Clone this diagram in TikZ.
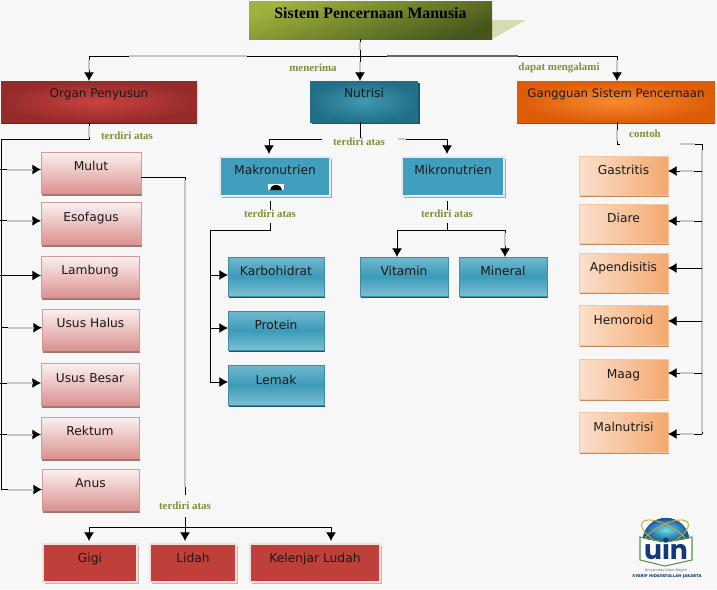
\documentclass[tikz,border=0pt]{standalone}
\usepackage{fontspec}
\setmainfont{DejaVu Sans}
\newfontfamily\serifb{Liberation Serif}[BoldFont={Liberation Serif Bold}]
\newfontfamily\logofont{Poppins}
\usetikzlibrary{arrows.meta,shadows,calc}
\definecolor{bgc}{HTML}{F7F7F7}
\definecolor{lbl}{HTML}{7F8F3A}
\definecolor{fade}{HTML}{C6C6C6}
\definecolor{uinblue}{HTML}{12397A}
\definecolor{uingreen}{HTML}{4E9A3C}
\definecolor{uingold}{HTML}{C9A63A}
\definecolor{uinglow}{HTML}{6FE0E0}
\definecolor{uinsky}{HTML}{0F4FA0}
\definecolor{titleA}{HTML}{A0B23C}
\definecolor{titleB}{HTML}{46551C}
\definecolor{wedge}{HTML}{D5DDB0}
\definecolor{redA}{HTML}{C8423F}
\definecolor{redB}{HTML}{962C2A}
\definecolor{redC}{HTML}{6E1F1D}
\definecolor{tealA}{HTML}{3F9AB2}
\definecolor{tealB}{HTML}{226F88}
\definecolor{tealC}{HTML}{1B5468}
\definecolor{orangeA}{HTML}{F98A2E}
\definecolor{orangeB}{HTML}{DD5C08}
\definecolor{orangeC}{HTML}{A84806}
\definecolor{pinkA}{HTML}{FBF1F1}
\definecolor{pinkB}{HTML}{DB9290}
\definecolor{pinkC}{HTML}{D49A98}
\definecolor{pinkD}{HTML}{A87270}
\definecolor{ltealA}{HTML}{6FB8CE}
\definecolor{ltealB}{HTML}{3C9BB8}
\definecolor{ltealC}{HTML}{7CC0D4}
\definecolor{ltealD}{HTML}{3F8CA4}
\definecolor{ltealE}{HTML}{1F5365}
\definecolor{peachA}{HTML}{FBE0CB}
\definecolor{peachB}{HTML}{F3A870}
\definecolor{peachC}{HTML}{F3C5A0}
\definecolor{peachD}{HTML}{BF8A62}
\definecolor{frameA}{HTML}{419FBD}
\definecolor{frameB}{HTML}{E6ECEE}
\definecolor{frameC}{HTML}{9AA6AA}
\definecolor{frameD}{HTML}{BF403B}
\definecolor{frameE}{HTML}{F1DEDC}
\definecolor{frameF}{HTML}{C4B4B2}
\tikzset{
  x=0.75pt,y=-0.75pt,
  every node/.style={inner sep=0pt,outer sep=0pt},
  boxbase/.style={rectangle,font=\fontsize{9.2}{11}\selectfont,text=black!90},
  mainred/.style={boxbase,inner color=redA,outer color=redB,drop shadow={shadow xshift=0pt,shadow yshift=-1.6pt,fill=redC,opacity=1}},
  mainteal/.style={boxbase,inner color=tealA,outer color=tealB,drop shadow={shadow xshift=1.5pt,shadow yshift=-1.6pt,fill=tealC,opacity=1}},
  mainorange/.style={boxbase,inner color=orangeA,outer color=orangeB,drop shadow={shadow xshift=0pt,shadow yshift=-1.6pt,fill=orangeC,opacity=1}},
  pinkbox/.style={boxbase,top color=pinkA,bottom color=pinkB,draw=pinkC,line width=0.6pt,drop shadow={shadow xshift=1pt,shadow yshift=-2pt,fill=pinkD,opacity=1}},
  tealbox/.style={boxbase,top color=ltealA,bottom color=ltealC,middle color=ltealB,draw=ltealD,line width=0.6pt,drop shadow={shadow xshift=1pt,shadow yshift=-1.6pt,fill=ltealE,opacity=1}},
  peachbox/.style={boxbase,left color=peachA,right color=peachB,draw=peachC,line width=0.4pt,drop shadow={shadow xshift=0.8pt,shadow yshift=-1.6pt,fill=peachD,opacity=1}},
  framedteal/.style={boxbase,fill=frameA,draw=frameB,line width=2.2pt,drop shadow={shadow xshift=1.2pt,shadow yshift=-1.6pt,fill=frameC,opacity=1}},
  framedred/.style={boxbase,fill=frameD,draw=frameE,line width=2.2pt,drop shadow={shadow xshift=1.2pt,shadow yshift=-1.6pt,fill=frameF,opacity=1}},
  tag/.style={font=\serifb\bfseries\fontsize{8.2}{10}\selectfont,text=lbl},
  wire/.style={draw=black,line width=0.75pt},
  arrowwire/.style={wire,-{Latex[length=6.5pt,width=7.5pt]}},
  fadewire/.style={draw=fade,line width=1.5pt},
}
\newcommand\rs{1pt}
\newcommand\bx[7]{%
  \pgfmathsetmacro\bxw{(#5-#3)*0.75}%
  \pgfmathsetmacro\bxh{(#6-#4)*0.75}%
  \node[#1,minimum width=\bxw pt,minimum height=\bxh pt] (#2) at ({(#3+#5)/2},{(#4+#6)/2}) {\raisebox{\rs}[0pt][0pt]{#7}};%
}
\begin{document}
\begin{tikzpicture}
\useasboundingbox[fill=bgc] (0,0) rectangle (717,589);

% title
\fill[wedge] (492,20) -- (526,20) -- (492,39) -- cycle;
\pgfmathsetmacro\bxw{243*0.75}\pgfmathsetmacro\bxh{38*0.75}
\node[rectangle,top color=titleA,bottom color=titleB,shading angle=20,minimum width=\bxw pt,minimum height=\bxh pt,font=\serifb\bfseries\fontsize{11.9}{13}\selectfont,text=black] (title) at (370.5,20) {\raisebox{1pt}[0pt][0pt]{Sistem Pencernaan Manusia}};

% level 1
\renewcommand\rs{2.8pt}
\bx{mainred}{organ}{1}{81}{197}{122}{\fontsize{9}{11}\selectfont Organ Penyusun}
\bx{mainteal}{nutrisi}{310}{81}{418}{122}{Nutrisi}
\bx{mainorange}{gangguan}{517}{81}{715}{122}{\fontsize{8.8}{11}\selectfont Gangguan Sistem Pencernaan}

% organs
\renewcommand\rs{1.3pt}
\bx{pinkbox}{mulut}{41}{152}{141}{193}{Mulut}
\bx{pinkbox}{esofagus}{41}{202}{141}{244}{Esofagus}
\bx{pinkbox}{lambung}{41}{256}{139}{297}{Lambung}
\bx{pinkbox}{halus}{42}{309}{139}{350}{Usus Halus}
\bx{pinkbox}{besar}{41}{363}{139}{405}{Usus Besar}
\bx{pinkbox}{rektum}{41}{417}{139}{458}{Rektum}
\bx{pinkbox}{anus}{42}{469}{139}{510}{Anus}

% nutrients
\bx{framedteal}{makro}{220}{157}{330}{196}{Makronutrien}
\bx{framedteal}{mikro}{402}{157}{504}{196}{Mikronutrien}
\fill[white] (268,184) rectangle (284,190);
\fill[black] (270,190) arc[start angle=180,end angle=360,x radius=6,y radius=5] -- cycle;
\renewcommand\rs{0.5pt}
\bx{tealbox}{karbo}{228}{257}{324}{296}{Karbohidrat}
\bx{tealbox}{protein}{228}{311}{324}{350}{Protein}
\bx{tealbox}{lemak}{228}{365}{324}{405}{Lemak}
\bx{tealbox}{vitamin}{360}{257}{448}{296}{Vitamin}
\bx{tealbox}{mineral}{459}{257}{547}{296}{Mineral}

% disorders
\bx{peachbox}{gastritis}{579}{156}{668}{195}{Gastritis}
\bx{peachbox}{diare}{579}{204}{668}{243}{Diare}
\bx{peachbox}{apendisitis}{579}{253}{668}{292}{Apendisitis}
\bx{peachbox}{hemoroid}{579}{305}{668}{345}{Hemoroid}
\bx{peachbox}{maag}{579}{359}{668}{399}{Maag}
\bx{peachbox}{malnutrisi}{579}{412}{668}{452}{Malnutrisi}

% mouth parts
\bx{framedred}{gigi}{43}{544}{137}{582}{Gigi}
\bx{framedred}{lidah}{150}{544}{236}{582}{Lidah}
\bx{framedred}{kelenjar}{250}{544}{380}{582}{Kelenjar Ludah}

% labels
\node[tag] (tMenerima) at (313,68) {menerima};
\node[tag] (tDapat) at (559,68) {dapat mengalami};
\node[tag] (tOrgan) at (127,136) {terdiri atas};
\node[tag] (tNutrisi) at (359,142) {terdiri atas};
\node[tag] (tMakro) at (270,214) {terdiri atas};
\node[tag] (tMikro) at (447,214) {terdiri atas};
\node[tag] (tContoh) at (645,134) {contoh};
\node[tag] (tMulut) at (185,506) {terdiri atas};

% trunk
\coordinate (hub) at (360,56);
\coordinate (hubL) at (89,56);
\coordinate (hubR) at (617,56);
\draw[wire] (title.south -| hub) -- (hub);
\draw[arrowwire] (hub) -- (nutrisi.north -| hub);
\draw[wire] (hubL) -- (hubR);
\draw[arrowwire] (hubL) -- (organ.north -| hubL);
\draw[arrowwire] (hubR) -- (gangguan.north -| hubR);
\draw[fadewire] (129,56) -- (247,56);
\draw[draw=black!60,line width=1.1pt] (387,56) -- (518,56);
\draw[fadewire] (360,42) -- (360,50);
\draw[fadewire] (360,62) -- (360,72);
\draw[fadewire] (89,60) -- (89,70);
\draw[fadewire] (617,60) -- (617,72);

% organ spine
\coordinate (orgTurn) at (89,139);
\coordinate (spineL) at (1,139);
\coordinate (spineEnd) at (1,490);
\draw[wire] (organ.south -| orgTurn) -- (orgTurn) -- (spineL) -- (spineEnd);
\draw[fadewire] (89,126) -- (89,137);
\foreach \b/\d in {mulut/3,esofagus/2.2,halus/1.8,besar/1,rektum/3,anus/0}{
  \draw[arrowwire] ($(\b.west)+(-41,-\d)$) -- ($(\b.west)+(0,-\d)$);
  \draw[fadewire] ($(\b.west)+(-34,-\d)$) -- ($(\b.west)+(-8,-\d)$);
}
\draw[arrowwire] ($(lambung.west)+(-41,-1)$) -- ($(lambung.west)+(0,-1)$);

% nutrisi branch
\coordinate (nuL) at (269,139);
\coordinate (nuR) at (447,139);
\draw[wire] (nutrisi.south -| hub) -- (tNutrisi.north -| hub);
\draw[arrowwire] ($(tNutrisi.west)+(-11,-3)$) -- (nuL) -- ($(makro.north -| nuL)+(0,-3)$);
\draw[arrowwire] ($(tNutrisi.east)+(14,-3)$) -- (nuR) -- ($(mikro.north -| nuR)+(0,-3)$);
\draw[fadewire] (398,139) -- (406,139);

% makro branch
\coordinate (maTurn) at (270,230);
\coordinate (maSpine) at (210,230);
\coordinate (maEnd) at (210,382);
\draw[wire] ($(makro.south -| maTurn)+(0,5)$) -- (tMakro.north -| maTurn);
\draw[wire] ($(tMakro.south -| maTurn)+(0,5)$) -- (maTurn) -- (maSpine) -- (maEnd);
\foreach \b/\d in {karbo/1.5,protein/2.5,lemak/3}{
  \draw[arrowwire] ($(\b.west)+(-18,-\d)$) -- ($(\b.west)+(0,-\d)$);
}

% mikro branch
\coordinate (miTurn) at (447,230);
\coordinate (miL) at (397,230);
\coordinate (miR) at (505,230);
\draw[wire] ($(mikro.south -| miTurn)+(0,5)$) -- (tMikro.north -| miTurn);
\draw[wire] ($(tMikro.south -| miTurn)+(0,5)$) -- (miTurn);
\draw[wire] (miL) -- (miR);
\draw[arrowwire] (miL) -- (vitamin.north -| miL);
\draw[arrowwire] (miR) -- (mineral.north -| miR);
\draw[fadewire] (505,233) -- (505,246);

% gangguan branch
\coordinate (gaA) at (617,144);
\coordinate (gaB) at (680,144);
\coordinate (gaC) at (702,144);
\coordinate (gaD) at (702,434);
\draw[wire] (gangguan.south -| gaA) -- (gaA) -- ++(3,0);
\draw[wire] (gaB) -- (gaC) -- (gaD);
\draw[fadewire] (617,130) -- (617,141);
\draw[fadewire] (680,144) -- (695,144);
\draw[fadewire] (702,150) -- (702,432);
\foreach \b/\d in {gastritis/-4.5,diare/-2.5,apendisitis/-4.5,hemoroid/-4,maag/-6,malnutrisi/2}{
  \draw[arrowwire] ($(\b.east)+(34,\d)$) -- ($(\b.east)+(0,\d)$);
}
\foreach \b/\d in {gastritis/-4.5,diare/-2.5,maag/-6,malnutrisi/2}{
  \draw[fadewire] ($(\b.east)+(12,\d)$) -- ($(\b.east)+(26,\d)$);
}

% mulut branch
\coordinate (muTurn) at (185,177);
\coordinate (muEnd) at (185,495);
\coordinate (muHub) at (185,527);
\coordinate (muL) at (89,527);
\coordinate (muR) at (331,527);
\draw[wire] ($(mulut.east)+(0,4.5)$) -- (muTurn) -- (muEnd);
\draw[fadewire] (185,180) -- (185,487);
\draw[wire] ($(tMulut.south -| muHub)+(0,7)$) -- (muHub);
\draw[wire] (muL) -- (muR);
\draw[arrowwire] (muL) -- ($(gigi.north -| muL)+(0,-3)$);
\draw[arrowwire] (muHub) -- ($(lidah.north -| muHub)+(0,-3)$);
\draw[arrowwire] (muR) -- ($(kelenjar.north -| muR)+(0,-3)$);

% logo
\fill[inner color=uinglow,outer color=uinsky] (643,540) arc[start angle=180,end angle=360,x radius=23,y radius=22] -- (665,542) -- cycle;
\draw[uingold,line width=0.7pt,rotate around={28:(665,535)}] (665,535) ellipse (26 and 10);
\draw[uingold,line width=0.7pt,rotate around={-28:(665,535)}] (665,535) ellipse (26 and 10);
\fill[white] (641,538) -- (665,543) -- (692,538) -- (692,560) -- (665,566) -- (641,560) -- cycle;
\draw[uingreen,line width=0.8pt] (640,537) -- (665,542) -- (692,537) -- (692,560) -- (665,566) -- (640,560) -- cycle;
\node[font=\logofont\bfseries\fontsize{20}{20}\selectfont,text=uinblue] (uin) at (666,549) {uin};
\node[font=\fontsize{2.6}{3}\selectfont,text=black!60] (uinA) at (666,571) {Universitas Islam Negeri};
\node[font=\bfseries\fontsize{2.9}{3}\selectfont,text=uinblue!80!black] (uinB) at (667,576) {SYARIF HIDAYATULLAH JAKARTA};
\end{tikzpicture}
\end{document}
